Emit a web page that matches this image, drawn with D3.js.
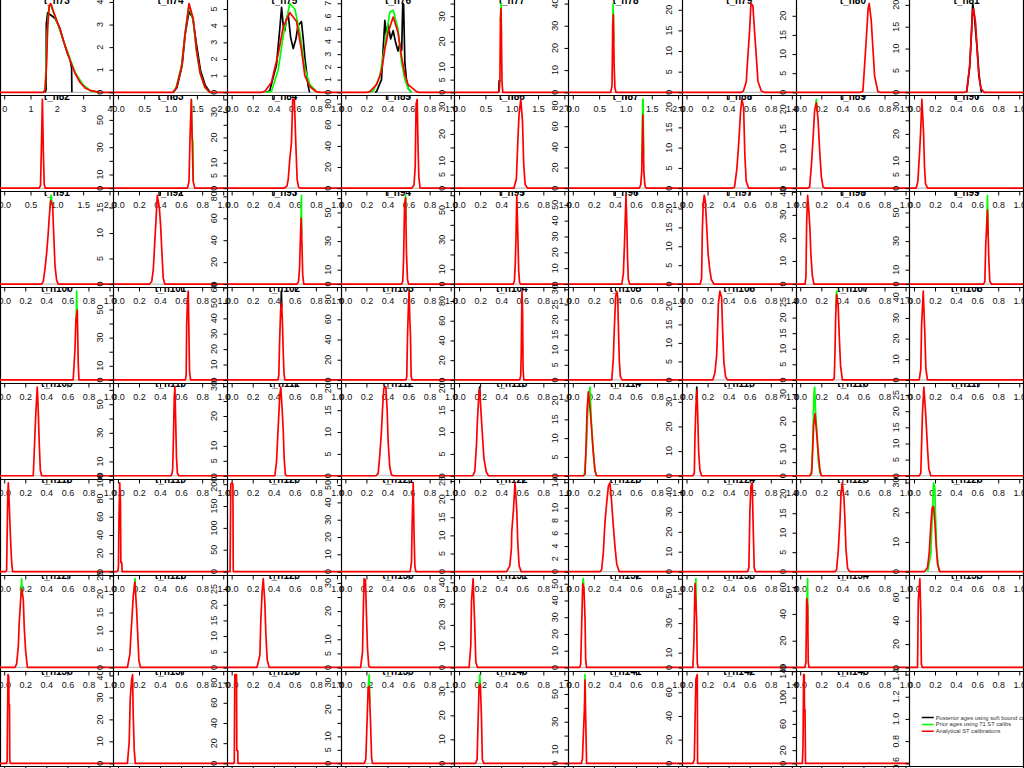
<!DOCTYPE html>
<html>
<head>
<meta charset="utf-8">
<script src="https://cdn.jsdelivr.net/npm/d3@7"></script>
<style>
  body { margin: 0; background: #fff; }
  svg { display: block; }
</style>
</head>
<body>
<svg id="chart"></svg>
<script>
// node names, one panel each (row by row, 9 per row)
const nodeNames = [
  "t_n73","t_n74","t_n75","t_n76","t_n77","t_n78","t_n79","t_n80","t_n81",
  "t_n82","t_n83","t_n84","t_n85","t_n86","t_n87","t_n88","t_n89","t_n90",
  "t_n91","t_n92","t_n93","t_n94","t_n95","t_n96","t_n97","t_n98","t_n99",
  "t_n100","t_n101","t_n102","t_n103","t_n104","t_n105","t_n106","t_n107","t_n108",
  "t_n109","t_n110","t_n111","t_n112","t_n113","t_n114","t_n115","t_n116","t_n117",
  "t_n118","t_n119","t_n120","t_n121","t_n122","t_n123","t_n124","t_n125","t_n126",
  "t_n127","t_n128","t_n129","t_n130","t_n131","t_n132","t_n133","t_n134","t_n135",
  "t_n136","t_n137","t_n138","t_n139","t_n140","t_n141","t_n142","t_n143"
];

// upper end of each x axis
const xMax = [
  4,2,1,1,2,2,1,1,1,
  2,1,1,1,1,1,1,1,1,
  1,1,1,1,1,1,1,1,1,
  1,1,1,1,1,1,1,1,1,
  1,1,1,1,1,1,1,1,1,
  1,1,1,1,1,1,1,1,1,
  1,1,1,1,1,1,1,1,1,
  1,1,1,1,1,1,1,1
];

// spacing of the density ticks
const yStep = [
  1,1,1,1,5,10,5,5,5,
  10,10,5,20,5,20,5,5,5,
  5,5,20,10,10,10,5,10,10,
  10,10,10,20,20,5,5,5,10,
  10,10,5,5,5,5,10,5,5,
  20,20,50,10,5,2,10,5,10,
  5,5,5,5,10,10,10,20,20,
  20,10,20,5,10,10,20,20
];

// analytical ST calibrations (red), [age, density]
const redCurves = [
  [[1.5,0],[1.55,0.08],[1.61,1.16],[1.65,2.66],[1.71,3.56],[1.77,3.63],[1.86,3.33],[1.99,2.96],[2.12,2.58],[2.31,1.91],[2.5,1.31],[2.69,0.78],[2.88,0.41],[3.07,0.18],[3.26,0.08],[3.64,0]],
  [[1.05,0],[1.11,0.2],[1.21,1.14],[1.27,2.5],[1.35,3.93],[1.43,3.26],[1.49,1.9],[1.56,0.87],[1.65,0.24],[1.74,0]],
  [[0.28,0],[0.315,0.05],[0.378,0.6],[0.442,2.3],[0.49,3.93],[0.552,4.79],[0.616,4.25],[0.663,2.55],[0.695,1.0],[0.742,0.35],[0.8,0.05],[0.84,0]],
  [[0.2,0],[0.232,0.05],[0.296,0.6],[0.343,1.65],[0.375,3.4],[0.406,4.7],[0.454,5.92],[0.5,4.7],[0.533,2.85],[0.565,1.39],[0.596,0.6],[0.676,0.05],[0.7,0]],
  [[0.74,0],[0.765,1],[0.775,5],[0.785,28],[0.795,33],[0.805,22],[0.815,4],[0.83,0]],
  [[0.72,0],[0.745,3],[0.758,30],[0.77,35],[0.785,12],[0.8,2],[0.82,0]],
  [[0.52,0],[0.54,0.3],[0.567,2.5],[0.583,8.9],[0.599,15],[0.612,21.5],[0.63,21],[0.646,14.8],[0.662,8.9],[0.678,2.7],[0.71,0.3],[0.74,0]],
  [[0.57,0],[0.595,0.3],[0.611,7],[0.626,13.4],[0.645,22],[0.655,23.2],[0.674,18.8],[0.69,11.6],[0.706,4.3],[0.737,0.2],[0.76,0]],
  [[0.48,0],[0.502,0.3],[0.528,5.8],[0.544,12.7],[0.556,18.5],[0.566,19.1],[0.585,16],[0.6,9.6],[0.616,3.6],[0.638,0.8],[0.668,0]],

  [[0.66,0],[0.69,2],[0.705,28],[0.725,68],[0.745,25],[0.76,3],[0.78,0]],
  [[0.66,0],[0.675,5],[0.685,38],[0.697,65],[0.707,30],[0.715,5],[0.73,0]],
  [[0.5,0],[0.525,0.8],[0.537,3.4],[0.552,11.4],[0.568,18],[0.58,35],[0.595,35],[0.609,18],[0.622,3.4],[0.635,0.5],[0.65,0]],
  [[0.63,0],[0.652,3],[0.663,20],[0.672,80],[0.682,84],[0.69,40],[0.698,10],[0.71,0]],
  [[0.52,0],[0.544,3.4],[0.56,19.4],[0.57,27.4],[0.586,32.7],[0.602,24.7],[0.614,8.7],[0.627,1.5],[0.65,0]],
  [[0.63,0],[0.645,3],[0.655,17],[0.665,71],[0.675,15],[0.685,2],[0.7,0]],
  [[0.44,0],[0.456,0.3],[0.478,4.7],[0.497,11.6],[0.513,18.9],[0.526,21.9],[0.542,20],[0.554,8],[0.567,1.7],[0.59,0]],
  [[0.07,0],[0.089,0.3],[0.105,5.5],[0.121,12.3],[0.137,19.9],[0.153,21.6],[0.169,17.4],[0.184,9.7],[0.2,3],[0.216,0.3],[0.24,0]],
  [[0.02,0],[0.037,2.5],[0.053,13],[0.063,20.5],[0.075,32.7],[0.091,20.5],[0.1,7.9],[0.11,1.5],[0.13,0]],

  [[0.355,0],[0.371,0.5],[0.387,2.8],[0.403,5.8],[0.418,9.5],[0.428,12.6],[0.441,15.6],[0.46,14.7],[0.466,11.4],[0.482,3.5],[0.498,0.7],[0.514,0]],
  [[0.3,0],[0.321,0.5],[0.336,2.9],[0.351,8.6],[0.361,12.3],[0.374,17.4],[0.393,15],[0.405,11.7],[0.415,7.3],[0.43,1.2],[0.445,0]],
  [[0.62,0],[0.635,2],[0.645,15],[0.655,48],[0.66,60],[0.668,35],[0.675,8],[0.685,0]],
  [[0.535,0],[0.545,2],[0.553,18],[0.562,55],[0.572,60],[0.58,22],[0.59,3],[0.6,0]],
  [[0.515,0],[0.525,2],[0.533,13],[0.54,30],[0.548,60],[0.558,33],[0.566,9],[0.574,1],[0.585,0]],
  [[0.465,0],[0.48,6.5],[0.49,24],[0.505,56],[0.514,35],[0.52,16],[0.527,3],[0.54,0]],
  [[0.13,0],[0.143,1.5],[0.15,14],[0.158,21],[0.168,23.5],[0.178,22],[0.19,16],[0.205,8],[0.22,4],[0.235,1.2],[0.26,0]],
  [[0.045,0],[0.054,3],[0.061,27],[0.07,38.5],[0.082,31.5],[0.092,23.8],[0.101,12.9],[0.115,3.5],[0.13,0]],
  [[0.66,0],[0.673,1.5],[0.682,28.5],[0.698,51.7],[0.711,17],[0.72,2],[0.735,0]],

  [[0.655,0],[0.672,24],[0.681,48],[0.694,55],[0.703,13],[0.71,0]],
  [[0.64,0],[0.648,3],[0.653,39],[0.66,55],[0.668,63],[0.675,30],[0.68,6],[0.69,0]],
  [[0.44,0],[0.448,3],[0.455,24],[0.465,45],[0.474,50],[0.482,38],[0.49,18],[0.497,4],[0.505,0]],
  [[0.575,0],[0.583,3],[0.59,43],[0.598,70],[0.605,88],[0.612,60],[0.618,45],[0.625,3],[0.635,0]],
  [[0.575,0],[0.585,4],[0.59,25],[0.597,90],[0.603,70],[0.608,10],[0.615,0]],
  [[0.37,0],[0.385,7.2],[0.395,17.7],[0.407,27.6],[0.417,29.4],[0.426,27.6],[0.433,17.7],[0.442,6],[0.452,1],[0.47,0]],
  [[0.25,0],[0.27,2],[0.286,6.6],[0.295,14],[0.302,20.5],[0.317,24],[0.333,22.3],[0.342,14],[0.355,4.7],[0.371,0.8],[0.39,0]],
  [[0.31,0],[0.323,0.5],[0.33,8.9],[0.336,19.8],[0.345,27.4],[0.36,24],[0.37,14.3],[0.383,4.5],[0.4,0]],
  [[0.05,0],[0.065,5.4],[0.072,26],[0.088,43],[0.103,22.6],[0.113,5.4],[0.128,0]],

  [[0.276,0],[0.292,14.4],[0.302,22.7],[0.314,30.4],[0.324,21.4],[0.333,10.6],[0.343,1.9],[0.356,0]],
  [[0.505,0],[0.515,2],[0.52,5],[0.528,29],[0.535,55],[0.541,62],[0.548,40],[0.556,13],[0.565,1.5],[0.58,0]],
  [[0.41,0],[0.426,4.6],[0.442,16.3],[0.457,26.8],[0.467,29.7],[0.48,22],[0.49,15],[0.499,5.7],[0.51,0.5],[0.52,0]],
  [[0.29,0],[0.311,0.5],[0.327,4.7],[0.343,10.3],[0.352,15],[0.365,20],[0.384,20.3],[0.397,15],[0.406,7.9],[0.422,1.9],[0.438,0.2],[0.46,0]],
  [[0.13,0],[0.149,1],[0.165,7],[0.174,12.6],[0.187,18.3],[0.196,19.8],[0.205,15.8],[0.221,9.5],[0.236,3.9],[0.259,0.8],[0.28,0]],
  [[0.1,0],[0.116,0.5],[0.125,7.2],[0.135,17.2],[0.147,22.3],[0.163,18.1],[0.178,12.7],[0.194,6.3],[0.21,1.4],[0.225,0]],
  [[0.06,0],[0.074,1],[0.08,15.5],[0.089,28],[0.099,34.6],[0.105,26.8],[0.115,9.8],[0.127,2.3],[0.143,0]],
  [[0.09,0],[0.108,1],[0.118,9.8],[0.127,18.4],[0.14,22.7],[0.155,16],[0.171,8.6],[0.187,2],[0.2,0]],
  [[0.05,0],[0.065,0.8],[0.072,9.3],[0.081,19.7],[0.094,27.5],[0.11,19.7],[0.119,14.5],[0.129,8.3],[0.141,2.2],[0.16,0]],

  [[0.015,0],[0.023,1],[0.033,48.6],[0.039,58.8],[0.048,44.4],[0.061,19.8],[0.071,6],[0.08,0]],
  [[-0.01,0],[0.0,1],[0.005,6],[0.01,60],[0.017,97],[0.024,75],[0.028,10],[0.036,10],[0.04,0]],
  [[-0.015,0],[-0.008,200],[0.0,203],[0.012,200],[0.015,3],[0.02,0]],
  [[0.615,0],[0.628,5.4],[0.634,27.4],[0.644,51.3],[0.653,19.4],[0.66,3],[0.67,0]],
  [[0.45,0],[0.481,1.5],[0.497,6.4],[0.5,11],[0.516,16.9],[0.531,24.5],[0.548,16.9],[0.557,8.3],[0.57,1.6],[0.59,0]],
  [[0.258,0],[0.274,0.3],[0.29,3],[0.305,7.7],[0.322,10.8],[0.338,13.4],[0.353,13.9],[0.369,10.8],[0.385,7.1],[0.4,4],[0.417,1.2],[0.44,0]],
  [[0.58,0],[0.592,2],[0.602,30.8],[0.612,43],[0.624,44.6],[0.634,20.4],[0.643,2],[0.655,0]],
  [[0.33,0],[0.345,0.5],[0.361,5.4],[0.378,13.6],[0.387,19.7],[0.399,22.8],[0.415,19],[0.424,13.6],[0.434,5.8],[0.45,0.8],[0.47,0]],
  [[0.1,0],[0.129,1.4],[0.145,6.5],[0.16,15.6],[0.173,21.4],[0.186,22],[0.198,16.8],[0.211,8.8],[0.224,2.5],[0.245,0]],

  [[0.102,0],[0.118,0.9],[0.134,5.3],[0.143,11.2],[0.156,16.9],[0.166,19.5],[0.181,16.9],[0.191,9.5],[0.204,4],[0.22,0]],
  [[0.09,0],[0.114,3.7],[0.123,8.7],[0.133,13.3],[0.145,19.3],[0.161,23.3],[0.177,16],[0.187,9.7],[0.199,1.9],[0.215,0]],
  [[0.24,0],[0.268,3.9],[0.277,15],[0.29,24.5],[0.3,28.3],[0.315,20.8],[0.325,10.6],[0.338,2.3],[0.357,0]],
  [[0.145,0],[0.163,5.6],[0.169,17.9],[0.178,31.5],[0.191,31],[0.2,19.1],[0.21,6.8],[0.222,0.5],[0.24,0]],
  [[0.095,0],[0.111,10.4],[0.118,31.3],[0.133,41.7],[0.149,19.3],[0.159,2.5],[0.175,0]],
  [[0.065,0],[0.075,2],[0.084,25],[0.094,50],[0.106,47],[0.116,29],[0.122,5],[0.13,0]],
  [[0.06,0],[0.07,17],[0.08,56.7],[0.089,45],[0.096,31.7],[0.102,3],[0.11,0]],
  [[0.044,0],[0.054,4],[0.061,51.4],[0.07,46],[0.076,4],[0.083,0]],
  [[0.03,0],[0.034,1],[0.041,57],[0.056,76],[0.065,45.7],[0.07,3],[0.08,0]],

  [[0.02,0],[0.028,2],[0.03,28],[0.036,80],[0.043,78],[0.045,53],[0.05,53],[0.053,2],[0.06,0]],
  [[0.09,0],[0.107,9.7],[0.117,29.7],[0.13,38],[0.139,40.4],[0.145,22],[0.155,6],[0.165,0]],
  [[0.02,0],[0.025,1],[0.03,88],[0.046,88],[0.049,12.7],[0.058,12.7],[0.06,0]],
  [[0.18,0],[0.194,1.5],[0.207,16.6],[0.216,27.8],[0.226,28.5],[0.239,15.4],[0.249,2],[0.258,0]],
  [[0.155,0],[0.171,1.5],[0.18,17],[0.19,32],[0.202,33],[0.212,19.9],[0.221,1.5],[0.235,0]],
  [[0.08,0],[0.091,2.7],[0.1,20],[0.11,39],[0.116,60],[0.122,34],[0.131,0]],
  [[0.06,0],[0.074,3],[0.08,31.7],[0.089,71],[0.102,75],[0.105,0]],
  [[0.02,0],[0.026,24],[0.032,135],[0.038,135],[0.04,82],[0.045,82],[0.05,0]]
];

// prior ages using 71 ST calibs (green); where it hides under red only the
// part that shows is listed
const greenCurves = [
  ["t_n73", [[1.5,0],[1.56,0.2],[1.6,1.5],[1.64,2.5],[1.7,3.45],[1.76,3.58],[1.86,3.3],[2.0,2.9],[2.3,1.95],[2.7,0.8],[3.0,0.3],[3.3,0.05],[3.6,0]]],
  ["t_n74", [[1.05,0],[1.11,0.25],[1.21,1.2],[1.27,2.5],[1.35,3.85],[1.43,3.2],[1.49,1.85],[1.56,0.85],[1.65,0.22],[1.74,0]]],
  ["t_n75", [[0.33,0],[0.378,0.05],[0.442,1.34],[0.49,3.4],[0.552,5.33],[0.6,5.0],[0.647,3.6],[0.695,1.45],[0.742,0.48],[0.806,0.05],[0.84,0]]],
  ["t_n76", [[0.23,0],[0.264,0.1],[0.327,1.25],[0.375,3.65],[0.422,6.3],[0.454,6.45],[0.5,5.0],[0.533,2.35],[0.565,1.0],[0.596,0.3],[0.63,0]]],
  ["t_n77", [[0.785,28],[0.797,35],[0.805,22]]],
  ["t_n78", [[0.758,30],[0.766,40],[0.778,22.7]]],
  ["t_n83", [[0.697,65],[0.704,38],[0.712,34],[0.715,5]]],
  ["t_n87", [[0.657,28],[0.664,86],[0.668,86],[0.672,32]]],
  ["t_n89", [[0.145,20.75],[0.153,22.5],[0.161,19.5]]],
  ["t_n91", [[0.435,14.2],[0.445,16.6],[0.455,15]]],
  ["t_n93", [[0.658,55],[0.663,81],[0.665,44.4]]],
  ["t_n94", [[0.567,57.5],[0.572,62],[0.575,45.8]]],
  ["t_n99", [[0.69,40.1],[0.698,62],[0.705,33]]],
  ["t_n100", [[0.684,49.6],[0.688,70],[0.692,53.9]]],
  ["t_n107", [[0.34,23.2],[0.345,28.5],[0.35,26.3]]],
  ["t_n114", [[0.11,0],[0.13,8],[0.14,16],[0.155,22],[0.163,23.6],[0.175,15],[0.19,8],[0.21,1.5],[0.225,0]]],
  ["t_n116", [[0.1,0],[0.112,3],[0.122,18],[0.13,30],[0.137,32.6],[0.145,24],[0.16,15],[0.17,6],[0.185,1.5],[0.2,0]]],
  ["t_n126", [[0.13,0],[0.16,6],[0.173,17.8],[0.186,29.9],[0.198,28],[0.204,19.4],[0.217,6.5],[0.236,0.5],[0.25,0]]],
  ["t_n127", [[0.158,17.4],[0.165,22],[0.172,18.5]]],
  ["t_n128", [[0.155,21.8],[0.163,24.2],[0.168,20.1]]],
  ["t_n132", [[0.094,50],[0.1,53],[0.106,47]]],
  ["t_n133", [[0.084,51.5],[0.089,60],[0.092,39.3]]],
  ["t_n134", [[0.064,49.6],[0.07,66.3],[0.072,32]]],
  ["t_n139", [[0.216,27.8],[0.226,32.9],[0.232,22.5]]],
  ["t_n140", [[0.19,32],[0.196,37],[0.202,33]]],
  ["t_n141", [[0.113,49.5],[0.116,64],[0.119,47]]]
];

// posterior ages using soft bound calibs (black), same convention
const blackCurves = [
  ["t_n73", [[1.55,0],[1.59,0.1],[1.6,2.8],[1.65,3.26],[1.74,3.18],[1.93,3.03],[2.12,2.6],[2.25,2.1],[2.4,1.6],[2.5,1.35],[2.56,1.0],[2.57,0]]],
  ["t_n74", [[1.05,0],[1.12,0.2],[1.22,1.2],[1.28,2.6],[1.35,3.57],[1.42,3.3],[1.5,2.0],[1.57,0.95],[1.66,0.3],[1.75,0]]],
  ["t_n75", [[0.33,0],[0.362,0.1],[0.426,1.66],[0.457,3.8],[0.474,5.1],[0.49,4.0],[0.505,3.7],[0.52,4.4],[0.537,4.7],[0.56,3.3],[0.585,2.63],[0.61,3.2],[0.63,4.0],[0.663,4.25],[0.68,3.2],[0.695,2.1],[0.727,0.37],[0.74,0]]],
  ["t_n76", [[0.28,0],[0.296,0.05],[0.343,1.0],[0.359,3.4],[0.375,5.65],[0.39,4.45],[0.406,5.38],[0.43,4.2],[0.454,4.85],[0.475,4.0],[0.5,3.25],[0.517,3.8],[0.535,3.3],[0.545,6.98],[0.553,6.9],[0.565,2.35],[0.58,1.0],[0.596,0.3],[0.628,0]]],
  ["t_n77", [[0.755,0],[0.76,4.5],[0.77,4.5],[0.775,5]]],
  ["t_n81", [[0.5,0],[0.53,6],[0.545,13],[0.558,20.3],[0.575,17],[0.6,10],[0.618,4],[0.64,0]]],
  ["t_n102", [[0.468,46.7],[0.472,57.7],[0.476,47]]],
  ["t_n113", [[0.19,18.8],[0.195,20.3],[0.2,18.2]]],
  ["t_n115", [[0.093,30.6],[0.097,36],[0.101,32]]]
];

const legendLabels = ["Posterior ages using soft bound calibs", "Prior ages using 71 ST calibs", "Analytical ST calibrations"];
const legendColors = ["#000000", "#00ff00", "#ff0000"];
const legendTicks = [0.6, 0.8, 1.0, 1.2, 1.4];

const width = 1024, height = 768;
const nCols = 9;
const cellW = 113.72, cellH = 95.86;
const FONT = "'Liberation Sans', Arial, Helvetica, sans-serif";
const sharp = v => Math.floor(v) + 0.5;

const svg = d3.select("#chart").attr("width", width).attr("height", height)
  .attr("font-family", FONT);
svg.append("rect").attr("width", width).attr("height", height).attr("fill", "#fff");
const defs = svg.append("defs");

const greenBy = new Map(greenCurves);
const blackBy = new Map(blackCurves);

// hidden text used to measure label lengths
const probe = svg.append("text").attr("font-size", 9).attr("visibility", "hidden");
const textW = s => { probe.text(s); return probe.node().getComputedTextLength(); };

// box lines (left and bottom, like bty = "l")
function drawBox(g, left, top, bottom) {
  g.append("line").attr("x1", sharp(left)).attr("x2", sharp(left))
    .attr("y1", top).attr("y2", bottom).attr("stroke", "#000").attr("stroke-width", 1.2);
  g.append("line").attr("x1", left).attr("x2", left + cellW)
    .attr("y1", sharp(bottom)).attr("y2", sharp(bottom)).attr("stroke", "#000").attr("stroke-width", 1.2);
}

// y axis with rotated labels, dropping labels that would collide
function drawYAxis(g, y, ticks, left, fmt) {
  const ax = g.append("g").attr("transform", `translate(${sharp(left)},0)`)
    .call(d3.axisLeft(y).tickValues(ticks).tickSize(4).tickFormat(""));
  ax.select(".domain").remove();
  ax.selectAll("line").attr("stroke", "#000");
  let last = null;
  ticks.forEach(v => {
    const label = fmt(v), w = textW(label), py = y(v);
    if (last && (last.py - last.w / 2) - (py + w / 2) < 5) return;
    g.append("text")
      .attr("transform", `translate(${left - 10.3},${py}) rotate(-90)`)
      .attr("text-anchor", "middle").attr("font-size", 9).attr("fill", "#111")
      .text(label);
    last = { py, w };
  });
}

nodeNames.forEach((name, i) => {
  const col = i % nCols, row = Math.floor(i / nCols);
  const left = col * cellW, top = row * cellH, bottom = top + cellH;
  const curves = [
    { color: "#000000", pts: blackBy.get(name) },
    { color: "#00ff00", pts: greenBy.get(name) },
    { color: "#ff0000", pts: redCurves[i], full: true }
  ].filter(c => c.pts);
  const yTop = d3.max(curves, c => d3.max(c.pts, p => p[1]));
  const xm = xMax[i];

  const x = d3.scaleLinear().domain([-0.04 * xm, 1.04 * xm]).range([left, left + cellW]);
  const y = d3.scaleLinear().domain([-0.04 * yTop, 1.04 * yTop]).range([bottom, top]);

  const g = svg.append("g");
  const clipId = "clip" + i;
  defs.append("clipPath").attr("id", clipId).append("rect")
    .attr("x", left).attr("y", top).attr("width", cellW).attr("height", cellH);

  // title, cut by the top of its panel
  g.append("text").attr("clip-path", `url(#${clipId})`)
    .attr("x", left + cellW / 2).attr("y", top + 4)
    .attr("text-anchor", "middle").attr("font-size", 10).attr("font-weight", "bold")
    .text(name);

  drawBox(g, left, top, bottom);

  // x axis
  const xAx = g.append("g").attr("transform", `translate(0,${sharp(bottom)})`)
    .call(d3.axisBottom(x).tickValues(d3.ticks(0, xm, 5)).tickSize(4).tickPadding(6.5)
      .tickFormat(xm >= 4 ? d3.format("d") : d3.format(".1f")));
  xAx.select(".domain").remove();
  xAx.attr("font-size", 9).attr("font-family", FONT);
  xAx.selectAll("line").attr("stroke", "#000");
  xAx.selectAll("text").attr("fill", "#111");

  // y axis
  const yTicks = d3.range(0, yTop * 1.04 + 1e-9, yStep[i]);
  drawYAxis(g, y, yTicks, left, d3.format("d"));

  // zero line and density curves; the red curve runs along the baseline
  // to both panel edges
  const plot = g.append("g").attr("clip-path", `url(#${clipId})`);
  plot.append("line").attr("x1", left).attr("x2", left + cellW)
    .attr("y1", y(0)).attr("y2", y(0)).attr("stroke", "#bebebe").attr("stroke-width", 1.2);
  const line = d3.line().x(d => x(d[0])).y(d => y(d[1]));
  const [dx0, dx1] = x.domain();
  curves.forEach(c => {
    const pts = c.full ? [[dx0, 0], ...c.pts, [dx1, 0]] : c.pts;
    plot.append("path")
      .attr("d", line(pts))
      .attr("fill", "none").attr("stroke", c.color)
      .attr("stroke-width", 1.7).attr("stroke-linejoin", "round");
  });
});

// last panel: empty plot carrying the legend
{
  const left = 8 * cellW, top = 7 * cellH, bottom = top + cellH;
  const y = d3.scaleLinear().domain([0.568, 1.432]).range([bottom, top]);
  const g = svg.append("g");
  drawBox(g, left, top, bottom);
  drawYAxis(g, y, legendTicks, left, d3.format(".1f"));

  defs.append("clipPath").attr("id", "clipLegend").append("rect")
    .attr("x", left).attr("y", top).attr("width", width - left).attr("height", cellH);
  const lg = g.append("g").attr("clip-path", "url(#clipLegend)");
  legendLabels.forEach((label, k) => {
    const ly = top + 46.5 + k * 6.9;
    lg.append("line").attr("x1", left + 12).attr("x2", left + 24)
      .attr("y1", ly).attr("y2", ly).attr("stroke", legendColors[k]).attr("stroke-width", 1.5);
    lg.append("text").attr("x", left + 26).attr("y", ly + 2)
      .attr("font-size", 5.8).attr("fill", "#333").text(label);
  });
}

// right edge
svg.append("line").attr("x1", width - 0.5).attr("x2", width - 0.5)
  .attr("y1", 0).attr("y2", height).attr("stroke", "#000").attr("stroke-width", 1.2);
probe.remove();
</script>
</body>
</html>
